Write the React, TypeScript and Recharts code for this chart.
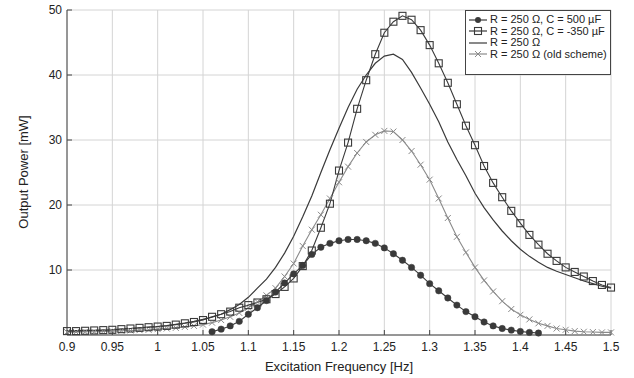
import { CartesianGrid, Label, Line, LineChart, XAxis, YAxis } from "recharts";

const freq = [
  0.9, 0.91, 0.92, 0.93, 0.94, 0.95, 0.96, 0.97, 0.98, 0.99,
  1.0, 1.01, 1.02, 1.03, 1.04, 1.05, 1.06, 1.07, 1.08, 1.09,
  1.1, 1.11, 1.12, 1.13, 1.14, 1.15, 1.16, 1.17, 1.18, 1.19,
  1.2, 1.21, 1.22, 1.23, 1.24, 1.25, 1.26, 1.27, 1.28, 1.29,
  1.3, 1.31, 1.32, 1.33, 1.34, 1.35, 1.36, 1.37, 1.38, 1.39,
  1.4, 1.41, 1.42, 1.43, 1.44, 1.45, 1.46, 1.47, 1.48, 1.49,
  1.5,
];

// R = 250 Ω, C = 500 µF (only measured 1.06 .. 1.42)
const withC500 = [
  null, null, null, null, null, null, null, null, null, null,
  null, null, null, null, null, null, 0.5, 0.9, 1.4, 2.1,
  3.2, 4.2, 5.3, 6.6, 8.0, 9.4, 10.7, 12.4, 13.5, 14.1,
  14.5, 14.7, 14.7, 14.5, 14.1, 13.4, 12.5, 11.5, 10.4, 9.2,
  7.9, 6.8, 5.7, 4.6, 3.6, 2.8, 2.0, 1.4, 1.0, 0.75,
  0.55, 0.4, 0.3, null, null, null, null, null, null, null,
  null,
];

// R = 250 Ω, C = -350 µF
const withCneg = [
  0.6, 0.6, 0.65, 0.7, 0.75, 0.8, 0.9, 1.0, 1.1, 1.2,
  1.3, 1.4, 1.6, 1.8, 2.0, 2.3, 2.8, 3.2, 3.6, 4.2,
  4.6, 5.0, 5.5, 6.3, 7.4, 8.7, 10.6, 13.0, 16.5, 20.2,
  25.3, 29.6, 34.8, 39.2, 43.2, 46.5, 48.2, 49.1, 48.5, 46.9,
  44.6, 41.8, 38.8, 35.5, 32.2, 29.2, 26.0, 23.4, 21.2, 19.1,
  17.2, 15.4, 13.9, 12.5, 11.4, 10.4, 9.7, 9.0, 8.3, 7.7,
  7.3,
];

// R = 250 Ω
const resistOnly = [
  0.65, 0.68, 0.7, 0.72, 0.75, 0.8, 0.9, 1.0, 1.1, 1.2,
  1.3, 1.45, 1.65, 1.85, 2.1, 2.4, 2.75, 3.2, 3.9, 4.7,
  5.8, 7.2, 8.6, 10.4, 12.6, 15.2, 18.2, 21.4, 25.0, 28.5,
  31.8, 35.0, 37.8, 40.0, 41.8, 42.9, 43.2, 42.4, 40.4, 38.0,
  35.5, 32.8, 29.7, 27.0, 24.5, 21.8, 19.6, 17.7, 16.0, 14.5,
  13.2, 12.1, 11.2, 10.4, 9.8, 9.3, 8.8, 8.3, 7.9, 7.5,
  7.2,
];

// R = 250 Ω (old scheme)
const oldScheme = [
  0.45, 0.45, 0.5, 0.5, 0.55, 0.6, 0.65, 0.7, 0.75, 0.8,
  0.9, 1.0, 1.1, 1.25, 1.4, 1.6, 1.9, 2.3, 2.8, 3.4,
  4.2, 5.1, 6.1, 7.2, 9.0, 11.0, 13.7, 16.2, 18.5, 21.0,
  23.5, 25.9, 28.0, 29.7, 30.8, 31.4, 31.3, 30.0, 28.3, 26.2,
  23.9, 21.0, 18.0, 15.1, 12.7, 10.4, 8.4, 6.7, 5.2, 4.0,
  3.1, 2.4, 1.8, 1.4, 1.0, 0.8, 0.6, 0.5, 0.45, 0.4,
  0.4,
];

const xTicks = [0.9, 0.95, 1, 1.05, 1.1, 1.15, 1.2, 1.25, 1.3, 1.35, 1.4, 1.45, 1.5];
const yTicks = [10, 20, 30, 40, 50];

const legendLabels = [
  "R = 250 Ω, C = 500 µF",
  "R = 250 Ω, C = -350 µF",
  "R = 250 Ω",
  "R = 250 Ω (old scheme)",
];

const data = freq.map((f, i) => ({
  f,
  c500: withC500[i],
  cneg: withCneg[i],
  r: resistOnly[i],
  old: oldScheme[i],
}));

const DARK = "#3a3a3a";
const GREY = "#8a8a8a";
const FONT = "'Liberation Sans', Arial, sans-serif";

const Dot = (props: any) => {
  const { cx, cy, value } = props;
  if (value == null || cx == null || cy == null) return null;
  return <circle cx={cx} cy={cy} r={3.2} fill={DARK} stroke={DARK} strokeWidth={0.5} />;
};

const Square = (props: any) => {
  const { cx, cy, value } = props;
  if (value == null || cx == null || cy == null) return null;
  return <rect x={cx - 3.5} y={cy - 3.5} width={7} height={7} fill="none" stroke={DARK} strokeWidth={1.1} />;
};

const Cross = (props: any) => {
  const { cx, cy, value } = props;
  if (value == null || cx == null || cy == null) return null;
  return (
    <path
      d={`M${cx - 3} ${cy - 3}L${cx + 3} ${cy + 3}M${cx - 3} ${cy + 3}L${cx + 3} ${cy - 3}`}
      stroke={GREY}
      strokeWidth={1}
    />
  );
};

function LegendIcon({ kind }: { kind: number }) {
  const color = kind === 3 ? GREY : DARK;
  return (
    <svg width={20} height={10} style={{ marginRight: 2 }}>
      <line x1={1} y1={5} x2={19} y2={5} stroke={color} strokeWidth={1.2} />
      {kind === 0 && <circle cx={10} cy={5} r={3} fill={DARK} />}
      {kind === 1 && <rect x={6.5} y={1.5} width={7} height={7} fill="none" stroke={DARK} strokeWidth={1.1} />}
      {kind === 3 && <path d="M7 2L13 8M7 8L13 2" stroke={GREY} strokeWidth={1} />}
    </svg>
  );
}

const fmt = (v: number) => String(Number(v.toFixed(2)));

export default function App() {
  return (
    <div style={{ position: "absolute", left: 0, top: 0, width: 634, height: 378, background: "#fff", fontFamily: FONT }}>
      <LineChart width={634} height={378} data={data} margin={{ top: 10, right: 23, bottom: 0, left: 10 }}>
        <CartesianGrid stroke="#d4d4d4" strokeWidth={1} vertical horizontal />
        <XAxis
          dataKey="f"
          type="number"
          domain={[0.9, 1.5]}
          ticks={xTicks}
          tickFormatter={fmt}
          height={43}
          tickSize={-5}
          tickMargin={12}
          stroke="#444"
          tick={{ fill: "#222", fontSize: 12, fontFamily: FONT }}
        >
          <Label value="Excitation Frequency [Hz]" position="insideBottom" offset={7} fill="#222" fontSize={13} fontFamily={FONT} />
        </XAxis>
        <XAxis
          xAxisId="top"
          orientation="top"
          dataKey="f"
          type="number"
          domain={[0.9, 1.5]}
          ticks={xTicks}
          tickFormatter={() => ""}
          height={0}
          tickSize={-5}
          stroke="#111"
        />
        <YAxis
          type="number"
          domain={[0, 50]}
          ticks={yTicks}
          width={57}
          tickSize={-5}
          tickMargin={10}
          stroke="#444"
          tick={{ fill: "#222", fontSize: 12, fontFamily: FONT }}
        >
          <Label
            content={() => (
              <text x={25} y={172} transform="rotate(-90 25 172)" textAnchor="middle" dominantBaseline="middle" fill="#222" fontSize={13} fontFamily={FONT}>
                Output Power [mW]
              </text>
            )}
          />
        </YAxis>
        <YAxis
          yAxisId="right"
          orientation="right"
          type="number"
          domain={[0, 50]}
          ticks={yTicks}
          tickFormatter={() => ""}
          width={0}
          tickSize={-5}
          stroke="#111"
        />
        <Line dataKey="r" stroke={DARK} strokeWidth={1.2} dot={false} isAnimationActive={false} />
        <Line dataKey="old" stroke={GREY} strokeWidth={1.1} dot={<Cross />} isAnimationActive={false} />
        <Line dataKey="cneg" stroke={DARK} strokeWidth={1.1} dot={<Square />} isAnimationActive={false} />
        <Line dataKey="c500" stroke={DARK} strokeWidth={1.1} dot={<Dot />} connectNulls={false} isAnimationActive={false} />
      </LineChart>
      <div
        style={{
          position: "absolute",
          left: 465,
          top: 10,
          width: 146,
          height: 65,
          boxSizing: "border-box",
          border: "1px solid #444",
          background: "#fff",
          padding: "3px 2px",
          fontSize: 11,
          color: "#222",
          lineHeight: "11.5px",
        }}
      >
        {legendLabels.map((t, i) => (
          <div key={t} style={{ display: "flex", alignItems: "center", whiteSpace: "nowrap" }}>
            <LegendIcon kind={i} />
            <span>{t}</span>
          </div>
        ))}
      </div>
    </div>
  );
}
